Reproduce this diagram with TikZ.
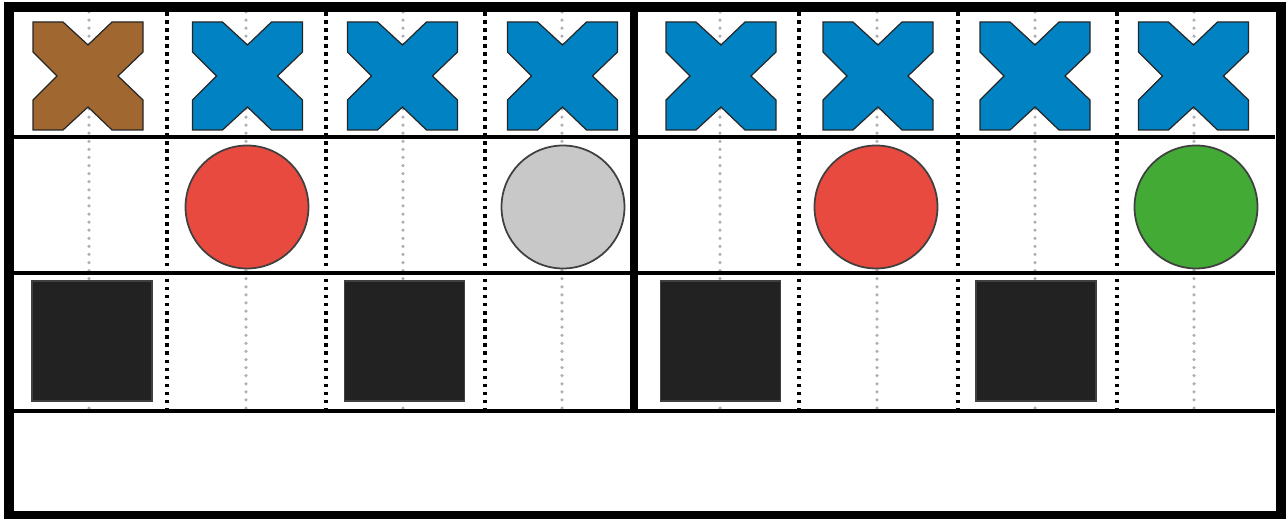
\documentclass[tikz,border=0pt]{standalone}
\usepackage{tikz}
\usetikzlibrary{positioning}
\definecolor{xbrown}{RGB}{160,104,48}
\definecolor{xblue}{RGB}{0,130,195}
\definecolor{tokred}{RGB}{232,74,63}
\definecolor{tokgreen}{RGB}{66,170,53}
\definecolor{tokgray}{RGB}{200,200,200}
\definecolor{ringgray}{RGB}{64,64,64}
\definecolor{blockgray}{RGB}{34,34,34}
\definecolor{guidegray}{RGB}{175,175,175}
\tikzset{
  guide/.style={draw=guidegray,line width=2pt,line cap=round,dash pattern=on 0pt off 4.6pt},
  divider/.style={draw=black,line width=2.1pt,dash pattern=on 2pt off 2.6pt},
  rowline/.style={draw=black,line width=2.2pt},
  midline/.style={draw=black,line width=4.5pt},
  frame/.style={draw=black,line width=5.7pt},
  token/.style={circle,draw=ringgray,line width=1pt,minimum size=2.46cm,inner sep=0pt},
  block/.style={rectangle,draw=black!75,fill=blockgray,line width=0.6pt,
                minimum size=2.4cm,inner sep=0pt},
  crossbox/.style={draw=black!85,line width=0.7pt},
  crossmark/.pic={
    \path[pic actions] (-55,-54) -- (-25,-54) -- (0,-31) -- (24,-54) -- (55,-54)
      -- (55,-24) -- (30,0) -- (55,24) -- (55,54) -- (24,54) -- (0,31)
      -- (-25,54) -- (-55,54) -- (-55,24) -- (-31,0) -- (-55,-24) -- cycle;
  }
}
\begin{document}
\begin{tikzpicture}[x=0.02cm,y=-0.02cm]
  \useasboundingbox (0,0) rectangle (1286,519);
  % guides through the cell centres
  \draw[guide] (89,12) -- (89,410);
  \draw[guide] (246,12) -- (246,410);
  \draw[guide] (403,12) -- (403,410);
  \draw[guide] (562,12) -- (562,410);
  \draw[guide] (720,12) -- (720,410);
  \draw[guide] (877,12) -- (877,410);
  \draw[guide] (1035,12) -- (1035,410);
  \draw[guide] (1194,12) -- (1194,410);
  % top row
  \pic[crossbox,fill=xbrown] (x1) at (88,76) {crossmark};
  \pic[crossbox,fill=xblue] (x2) at (247.5,76) {crossmark};
  \pic[crossbox,fill=xblue] (x3) at (402.5,76) {crossmark};
  \pic[crossbox,fill=xblue] (x4) at (562.5,76) {crossmark};
  \pic[crossbox,fill=xblue] (x5) at (721,76) {crossmark};
  \pic[crossbox,fill=xblue] (x6) at (878,76) {crossmark};
  \pic[crossbox,fill=xblue] (x7) at (1035,76) {crossmark};
  \pic[crossbox,fill=xblue] (x8) at (1193.5,76) {crossmark};
  % middle row
  \node[token,fill=tokred] (disc2) at (247,207) {};
  \node[token,fill=tokgray] (disc4) at (563,207) {};
  \node[token,fill=tokred] (disc6) at (876,207) {};
  \node[token,fill=tokgreen] (disc8) at (1196,207) {};
  % bottom row
  \node[block] (sq1) at (92,341) {};
  \node[block] (sq3) at (404.5,341) {};
  \node[block] (sq5) at (720.5,341) {};
  \node[block] (sq7) at (1036,341) {};
  % grid
  \draw[divider] (167,12) -- (167,410);
  \draw[divider] (326,12) -- (326,410);
  \draw[divider] (485,12) -- (485,410);
  \draw[divider] (799,12) -- (799,410);
  \draw[divider] (958,12) -- (958,410);
  \draw[divider] (1117,12) -- (1117,410);
  \draw[rowline] (14,137) -- (1275,137);
  \draw[rowline] (14,273) -- (1275,273);
  \draw[rowline] (14,411) -- (1275,411);
  \draw[midline] (634,12) -- (634,411);
  \draw[frame] (9,7) rectangle (1280.5,516);
\end{tikzpicture}
\end{document}
